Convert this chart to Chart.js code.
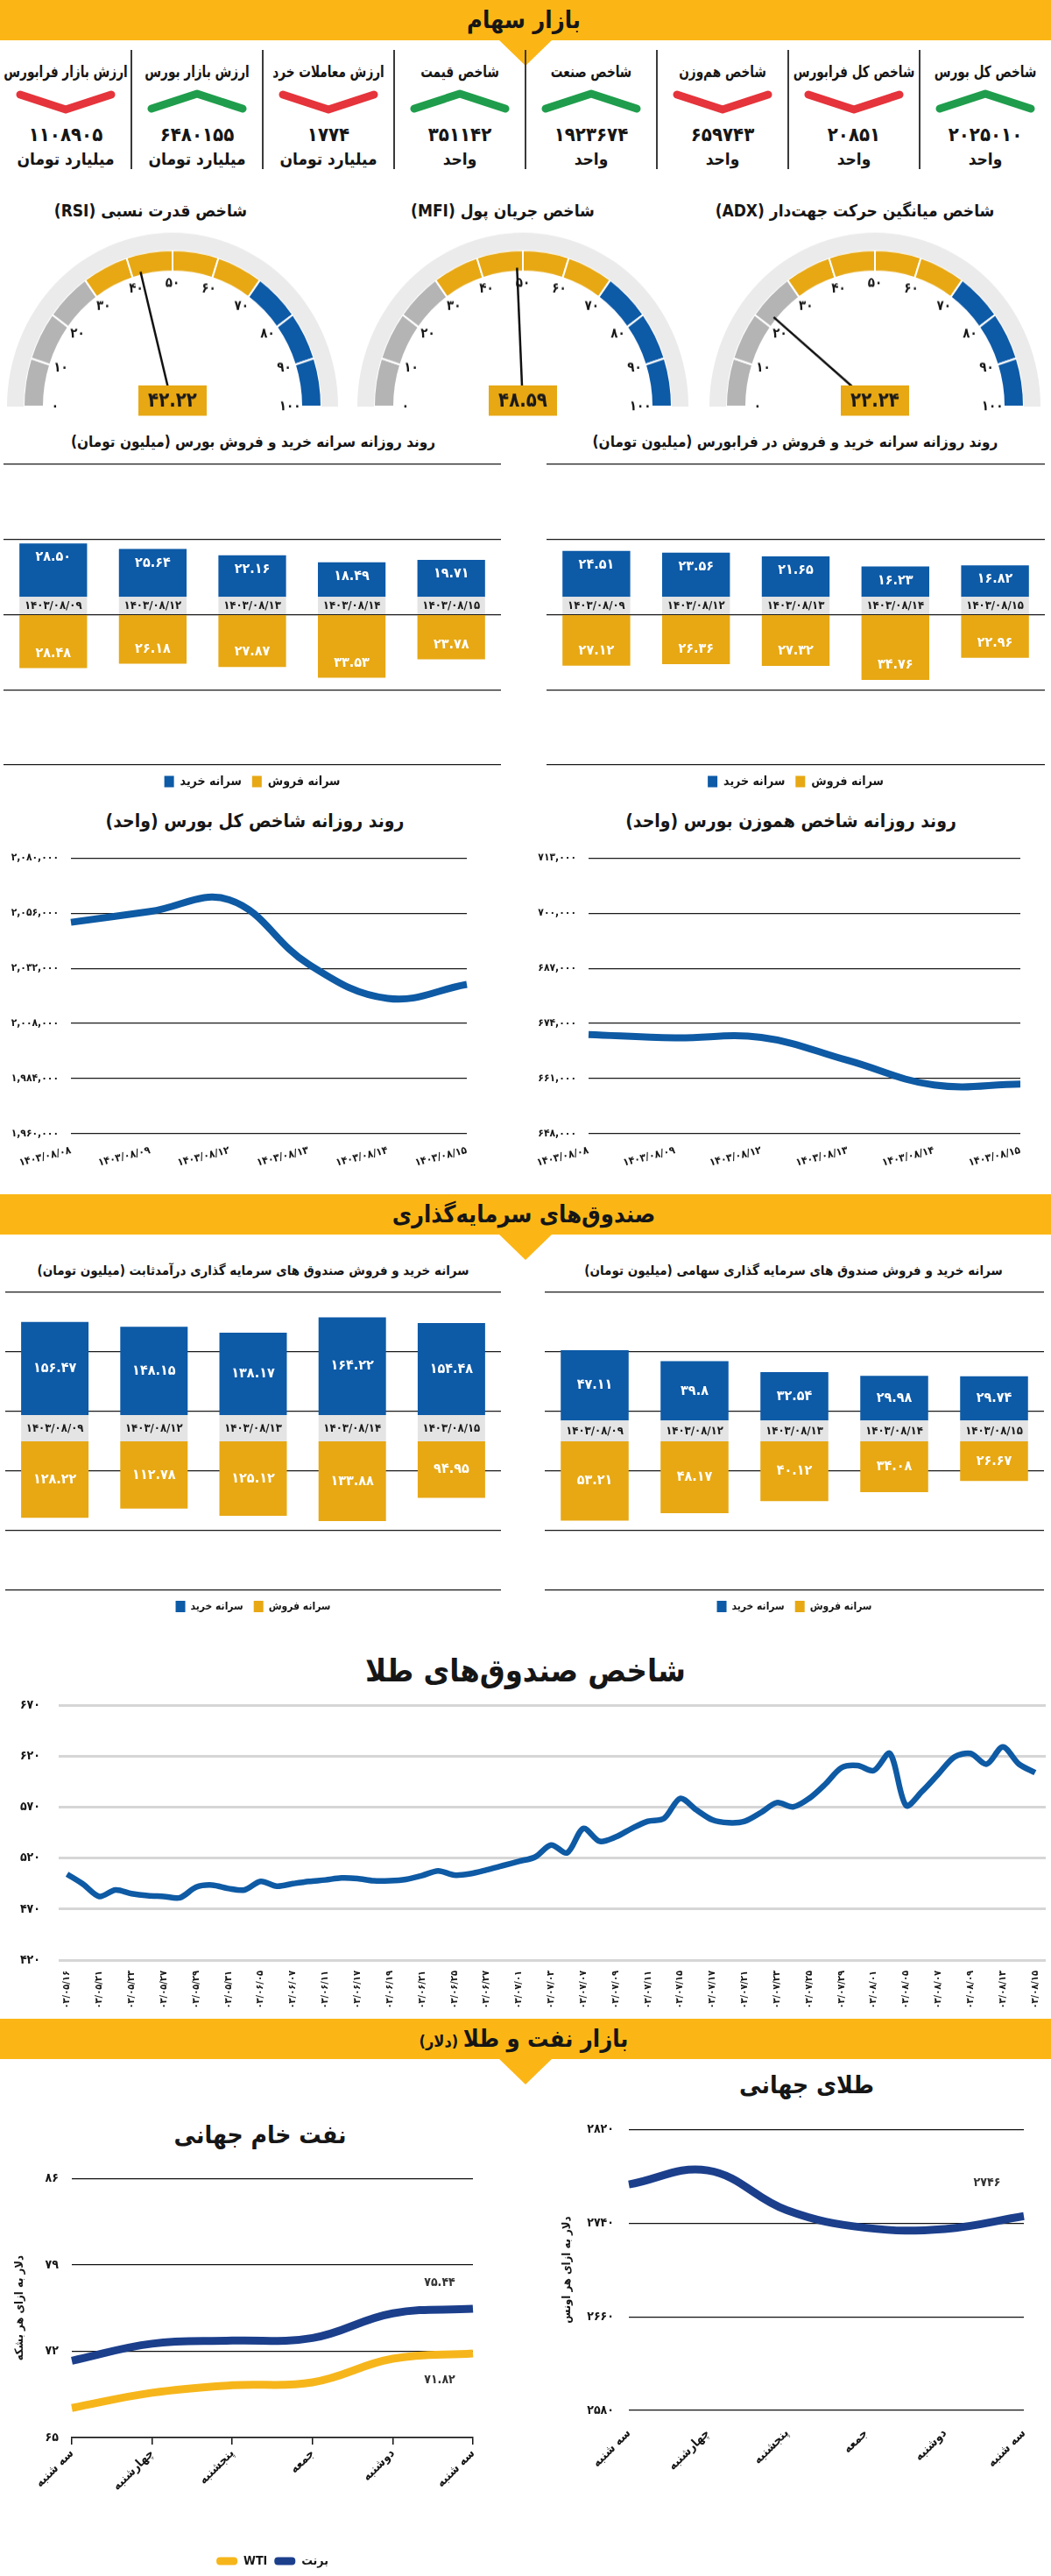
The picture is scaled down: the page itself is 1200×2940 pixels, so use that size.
<!DOCTYPE html>
<html lang="fa">
<head>
<meta charset="utf-8">
<title>بازار سهام</title>
<script src="https://cdn.jsdelivr.net/npm/chart.js@4.4.1/dist/chart.umd.min.js"></script>
<style>
  html, body { margin: 0; padding: 0; background: #fff; }
  #page { position: relative; width: 1200px; height: 2940px; overflow: hidden; background: #fff;
          font-family: "DejaVu Sans Condensed", "DejaVu Sans", sans-serif; color: #161616; }
  #page canvas, #page svg { position: absolute; }
  .band { position: absolute; left: 0; width: 1200px; height: 46px; background: #fbb616; }
  .tab { position: absolute; left: 569px; width: 62px; height: 30px; background: #fbb616; clip-path: polygon(0 0, 100% 0, 50% 100%); }
  .sep { position: absolute; width: 2px; background: #3a3a3a; }
  .t { position: absolute; direction: rtl; white-space: nowrap; font-weight: bold; transform: translateX(-50%); text-align: center; }
  .gauge { transform: scaleY(1.05); transform-origin: 50% 189px; }
</style>
</head>
<body>
<div id="page"></div>
<script>
// ---- data ----
// top row, read right to left
const indNames = ['شاخص کل بورس', 'شاخص کل فرابورس', 'شاخص هم‌وزن', 'شاخص صنعت', 'شاخص قیمت', 'ارزش معاملات خرد', 'ارزش بازار بورس', 'ارزش بازار فرابورس'];
const indValues = [2025010, 20851, 659743, 1923674, 351142, 1774, 6480155, 1108905];
const indUnits = ['واحد', 'واحد', 'واحد', 'واحد', 'واحد', 'میلیارد تومان', 'میلیارد تومان', 'میلیارد تومان'];
const indUp = [true, false, false, true, true, false, true, false];

// gauges, left to right
const gaugeNames = ['شاخص قدرت نسبی (RSI)', 'شاخص جریان پول (MFI)', 'شاخص میانگین حرکت جهت‌دار (ADX)'];
const gaugeValues = [42.22, 48.59, 22.24];
const gaugeTicks = [0, 10, 20, 30, 40, 50, 60, 70, 80, 90, 100];

const tradeDates = ['1403/08/09', '1403/08/12', '1403/08/13', '1403/08/14', '1403/08/15'];
const bourseBuy = [28.50, 25.64, 22.16, 18.49, 19.71];
const bourseSell = [28.48, 26.18, 27.87, 33.53, 23.78];
const farabourseBuy = [24.51, 23.56, 21.65, 16.23, 16.82];
const farabourseSell = [27.12, 26.36, 27.32, 34.76, 22.96];

const indexDates = ['1403/08/08', '1403/08/09', '1403/08/12', '1403/08/13', '1403/08/14', '1403/08/15'];
const totalIndex = [2052000, 2056700, 2061800, 2033800, 2018900, 2025010];
const equalIndex = [671400, 670600, 670700, 665300, 659500, 659743];

const fixedBuy = [156.47, 148.15, 138.17, 164.22, 154.48];
const fixedSell = [128.22, 112.78, 125.12, 133.88, 94.95];
const equityBuy = [47.11, 39.8, 32.54, 29.98, 29.74];
const equitySell = [53.21, 48.17, 40.12, 34.08, 26.67];

const goldFundDates = ['1403/05/16', '1403/05/21', '1403/05/23', '1403/05/27', '1403/05/29', '1403/05/31', '1403/06/05', '1403/06/07',
  '1403/06/11', '1403/06/17', '1403/06/19', '1403/06/21', '1403/06/25', '1403/06/27', '1403/07/01', '1403/07/03', '1403/07/07',
  '1403/07/09', '1403/07/11', '1403/07/15', '1403/07/17', '1403/07/21', '1403/07/23', '1403/07/25', '1403/07/29', '1403/08/01',
  '1403/08/05', '1403/08/07', '1403/08/09', '1403/08/13', '1403/08/15'];
// two readings per labelled date
const goldFundIndex = [504.3, 494.4, 482.4, 488.8, 485.2, 483.2, 482.4, 481.2, 491.6, 493.6,
  490.2, 488.8, 497.2, 492.5, 495.0, 497.2, 498.6, 500.6, 500.0, 497.8,
  497.8, 499.2, 502.9, 507.6, 503.4, 504.8, 508.5, 512.7, 516.9, 521.1,
  532.9, 525.3, 549.2, 536.6, 540.8, 549.2, 556.2, 559.0, 578.7, 567.5,
  557.6, 554.8, 556.2, 564.7, 574.5, 570.3, 578.7, 592.7, 608.8, 611.0,
  606.0, 622.8, 571.7, 585.7, 602.6, 619.4, 622.8, 612.4, 629.3, 612.4, 604.0];

const weekDays = ['سه شنبه', 'چهارشنبه', 'پنجشنبه', 'جمعه', 'دوشنبه', 'سه شنبه'];
const brent = [71.23, 72.61, 72.86, 73.07, 75.07, 75.44];
const wti = [67.4, 68.63, 69.24, 69.48, 71.39, 71.82];
const goldWorld = [2773, 2785, 2751, 2736, 2735, 2746];

// ---- helpers ----
const FONT = '"DejaVu Sans Condensed", "DejaVu Sans", sans-serif';
const BLUE = '#0d5aa7', GOLD = '#e7a814', BAND = '#e4e4e4', LINE = '#0e5aa4', NAVY = '#1c3f8c',
      YELLOW = '#f6b61b', GREY = '#b4b4b4', PALE = '#ebebeb';
const page = document.getElementById('page');
const faDigits = '۰۱۲۳۴۵۶۷۸۹';
const fa = s => String(s).replace(/[0-9]/g, d => faDigits[d]);

Chart.defaults.font.family = FONT;
Chart.defaults.font.size = 13;
Chart.defaults.color = '#161616';
Chart.defaults.animation = false;
Chart.defaults.responsive = false;
Chart.defaults.maintainAspectRatio = false;
Chart.defaults.plugins.tooltip.enabled = false;

function text(str, cx, cy, size, squeeze) {
  const d = document.createElement('div');
  d.className = 't';
  d.textContent = str;
  d.style.left = cx + 'px';
  d.style.top = (cy - size * 0.75) + 'px';
  d.style.fontSize = size + 'px';
  d.style.lineHeight = (size * 1.5) + 'px';
  if (squeeze) d.style.transform = 'translateX(-50%) scaleX(' + squeeze + ')';
  page.appendChild(d);
  return d;
}

function addCanvas(x, y, w, h) {
  const c = document.createElement('canvas');
  c.width = w; c.height = h;
  c.style.left = x + 'px'; c.style.top = y + 'px';
  c.setAttribute('dir', 'rtl');
  page.appendChild(c);
  return c;
}

function banner(title, top, sub) {
  const b = document.createElement('div');
  b.className = 'band'; b.style.top = top + 'px';
  page.appendChild(b);
  const tab = document.createElement('div');
  tab.className = 'tab'; tab.style.top = (top + 45) + 'px';
  page.appendChild(tab);
  const t = text(title, 598, top + 23, 27);
  if (sub) {
    const s = document.createElement('span');
    s.textContent = ' ' + sub;
    s.style.fontSize = '18px';
    t.appendChild(s);
  }
}

function chevron(cx, cy, up) {
  const ns = 'http://www.w3.org/2000/svg';
  const svg = document.createElementNS(ns, 'svg');
  svg.setAttribute('width', 124); svg.setAttribute('height', 40);
  svg.style.left = (cx - 62) + 'px'; svg.style.top = (cy - 20) + 'px';
  const p = document.createElementNS(ns, 'polyline');
  p.setAttribute('points', up ? '10,28 62,11 114,28' : '10,12 62,29 114,12');
  p.setAttribute('fill', 'none');
  p.setAttribute('stroke', up ? '#1f9d4c' : '#e5343b');
  p.setAttribute('stroke-width', 9);
  p.setAttribute('stroke-linecap', 'round');
  p.setAttribute('stroke-linejoin', 'round');
  svg.appendChild(p);
  page.appendChild(svg);
}

// ---- plugins ----
const barLabels = {
  id: 'barLabels',
  afterDatasetsDraw(chart, args, opts) {
    const ctx = chart.ctx;
    ctx.save();
    ctx.textAlign = 'center';
    ctx.textBaseline = 'middle';
    ctx.font = 'bold 13px ' + FONT;
    ctx.fillStyle = '#1a1a1a';
    chart.getDatasetMeta(0).data.forEach((bar, i) => {
      ctx.fillText(chart.data.labels[i], bar.x, (bar.y + bar.base) / 2 + 1);
    });
    ctx.font = 'bold ' + opts.size + 'px ' + FONT;
    ctx.fillStyle = '#fff';
    [1, 2].forEach(di => {
      const ds = chart.data.datasets[di];
      chart.getDatasetMeta(di).data.forEach((bar, i) => {
        const v = ds.shown[i];
        const s = fa(opts.digits ? v.toFixed(opts.digits) : String(v));
        let yy = (bar.y + bar.base) / 2;
        if (opts.place === 'end') yy = di === 1 ? bar.y + 16 : bar.y - 17;
        ctx.fillText(s, bar.x, yy);
      });
    });
    ctx.restore();
  }
};

const gaugePlugin = {
  id: 'gauge',
  afterDatasetsDraw(chart, args, opts) {
    const arcs = chart.getDatasetMeta(1).data;
    const cx = arcs[0].x, cy = arcs[0].y, rIn = arcs[0].innerRadius;
    const a0 = arcs[0].startAngle, a1 = arcs[arcs.length - 1].endAngle;
    const ang = t => a0 + (a1 - a0) * t / 100;
    const ctx = chart.ctx;
    ctx.save();
    ctx.textAlign = 'center';
    ctx.textBaseline = 'middle';
    ctx.fillStyle = '#161616';
    ctx.font = 'bold 15px ' + FONT;
    gaugeTicks.forEach(t => {
      const a = ang(t);
      ctx.fillText(fa(t), cx + Math.cos(a) * (rIn - 13), cy + Math.sin(a) * (rIn - 13));
    });
    const a = ang(opts.value);
    ctx.strokeStyle = '#111';
    ctx.lineWidth = 2.5;
    ctx.beginPath();
    ctx.moveTo(cx, cy);
    ctx.lineTo(cx + Math.cos(a) * (rIn + 4), cy + Math.sin(a) * (rIn + 4));
    ctx.stroke();
    ctx.fillStyle = GOLD;
    ctx.fillRect(cx - 39, cy - 23, 78, 33);
    ctx.fillStyle = '#1a1a1a';
    ctx.font = 'bold 22px ' + FONT;
    ctx.fillText(fa(opts.value.toFixed(2)), cx, cy - 6);
    ctx.restore();
  }
};

const endLabels = {
  id: 'endLabels',
  afterDatasetsDraw(chart) {
    const ctx = chart.ctx;
    ctx.save();
    ctx.textAlign = 'center';
    ctx.textBaseline = 'middle';
    ctx.font = 'bold 14px ' + FONT;
    ctx.fillStyle = '#333';
    chart.data.datasets.forEach((ds, di) => {
      if (!ds.endLabel) return;
      const pts = chart.getDatasetMeta(di).data;
      const p = pts[pts.length - 1];
      ctx.fillText(fa(ds.data[ds.data.length - 1]), p.x + ds.endLabel[0], p.y + ds.endLabel[1]);
    });
    ctx.restore();
  }
};

// ---- banners & top row ----
banner('بازار سهام', 0);
banner('صندوق‌های سرمایه‌گذاری', 1363);
banner('بازار نفت و طلا', 2304, '(دلار)');

indNames.forEach((name, i) => {
  const cx = 1125 - i * 150;
  text(name, cx, 81, 18, 0.84);
  chevron(cx, 116, indUp[i]);
  text(fa(indValues[i]), cx, 153, 22);
  text(indUnits[i], cx, 181, 19);
});
for (let k = 1; k < 8; k++) {
  const s = document.createElement('div');
  s.className = 'sep';
  s.style.left = (k * 150 - 1) + 'px';
  s.style.top = '57px';
  s.style.height = '136px';
  page.appendChild(s);
}

// ---- gauges ----
const gaugeX = [197, 597, 999];
const gaugeTitleX = [172, 574, 976];
gaugeValues.forEach((val, g) => {
  text(gaugeNames[g], gaugeTitleX[g], 240, 19);
  const steps = gaugeTicks.slice(1).map((t, i) => t - gaugeTicks[i]);
  const cv = addCanvas(gaugeX[g] - 189, 275, 378, 203);
  cv.className = 'gauge';
  new Chart(cv, {
    type: 'doughnut',
    data: {
      labels: gaugeTicks.slice(1).map(String),
      datasets: [
        { data: [100], backgroundColor: [PALE], borderWidth: 0, weight: 19 },
        { data: steps, backgroundColor: gaugeTicks.slice(1).map(t => t <= 30 ? GREY : t <= 70 ? GOLD : BLUE),
          borderColor: '#fff', borderWidth: 2, weight: 23 }
      ]
    },
    options: {
      rotation: -90, circumference: 180, cutout: '77.8%',
      layout: { padding: { bottom: 14 } },
      plugins: { legend: { display: false }, gauge: { value: val } }
    },
    plugins: [gaugePlugin]
  });
});

// ---- split bar charts ----
function splitBars(x, y, w, h, pad, cfg) {
  return new Chart(addCanvas(x, y, w, h), {
    type: 'bar',
    data: {
      labels: tradeDates.map(fa),
      datasets: [
        { label: 'تاریخ', data: tradeDates.map(() => cfg.band), backgroundColor: BAND },
        { label: 'سرانه خرید', data: cfg.buy, shown: cfg.buy, backgroundColor: BLUE },
        { label: 'سرانه فروش', data: cfg.sell.map(v => -v), shown: cfg.sell, backgroundColor: GOLD }
      ]
    },
    options: {
      layout: { padding: pad },
      datasets: { bar: { categoryPercentage: 1, barPercentage: 0.68 } },
      scales: {
        x: { stacked: true, display: false },
        y: { stacked: true, min: cfg.min, max: cfg.max,
             ticks: { display: false, stepSize: cfg.step },
             grid: { color: '#1a1a1a', lineWidth: 1.2, drawTicks: false },
             border: { display: false },
             afterFit: s => { s.width = 0; } }
      },
      plugins: {
        legend: { position: 'bottom',
                  labels: { filter: it => it.datasetIndex > 0, boxWidth: 11, boxHeight: 13, padding: 12,
                            font: { size: cfg.legendSize, weight: 'bold' } } },
        barLabels: { place: cfg.place, digits: cfg.digits, size: cfg.labelSize }
      }
    },
    plugins: [barLabels]
  });
}

text('روند روزانه سرانه خرید و فروش بورس (میلیون تومان)', 289, 505, 17);
text('روند روزانه سرانه خرید و فروش در فرابورس (میلیون تومان)', 908, 505, 17);
splitBars(0, 525, 600, 384, { top: 5, left: 4, right: 28 },
  { buy: bourseBuy, sell: bourseSell, band: 9.4, min: -80, max: 80, step: 40, place: 'end', digits: 2, labelSize: 16, legendSize: 14 });
splitBars(600, 525, 600, 384, { top: 5, left: 24, right: 7 },
  { buy: farabourseBuy, sell: farabourseSell, band: 9.4, min: -80, max: 80, step: 40, place: 'end', digits: 2, labelSize: 16, legendSize: 14 });

// ---- index lines ----
// y ticks at 12px with 14px padding push the plot down by ~21px
function indexLine(x, cfg) {
  return new Chart(addCanvas(x, 958, 600, 381), {
    type: 'line',
    data: { labels: indexDates.map(fa),
            datasets: [{ data: cfg.values, borderColor: LINE, borderWidth: 8, tension: 0.4, pointRadius: 0 }] },
    options: {
      layout: { padding: { top: 0, left: 0, right: cfg.right, bottom: 0 } },
      plugins: { legend: { display: false } },
      scales: {
        x: { grid: { display: false }, border: { display: false },
             ticks: { autoSkip: false, minRotation: 14, maxRotation: 14, padding: 4, font: { size: 12, weight: 'bold' } },
             afterFit: s => { s.height = 45; } },
        y: { min: cfg.min, max: cfg.max,
             ticks: { stepSize: cfg.step, padding: 14, font: { size: 12, weight: 'bold' },
                      callback: v => fa(v.toLocaleString('en-US')) },
             grid: { color: '#1a1a1a', lineWidth: 1.2, drawTicks: false },
             border: { display: false },
             afterFit: s => { s.width = cfg.axisW; } }
      }
    }
  });
}
text('روند روزانه شاخص کل بورس (واحد)', 291, 938, 21);
text('روند روزانه شاخص هموزن بورس (واحد)', 903, 938, 21);
indexLine(0, { values: totalIndex, min: 1960000, max: 2080000, step: 24000, axisW: 81, right: 67 });
indexLine(600, { values: equalIndex, min: 648000, max: 713000, step: 13000, axisW: 72, right: 35 });

// ---- fund bars ----
text('سرانه خرید و فروش صندوق های سرمایه گذاری درآمدثابت (میلیون تومان)', 289, 1450, 15);
text('سرانه خرید و فروش صندوق های سرمایه گذاری سهامی (میلیون تومان)', 906, 1450, 15);
splitBars(0, 1470, 600, 380, { top: 5, left: 6, right: 28 },
  { buy: fixedBuy, sell: fixedSell, band: 44, min: -250, max: 250, step: 100, place: 'center', digits: 0, labelSize: 16, legendSize: 12 });
splitBars(600, 1470, 600, 380, { top: 5, left: 22, right: 8 },
  { buy: equityBuy, sell: equitySell, band: 14, min: -100, max: 100, step: 40, place: 'center', digits: 0, labelSize: 16, legendSize: 12 });

// ---- gold funds index ----
text('شاخص صندوق‌های طلا', 600, 1907, 36);
new Chart(addCanvas(0, 1917, 1200, 375), {
  type: 'line',
  data: { datasets: [{ data: goldFundIndex.map((v, i) => ({ x: i / 2, y: v })),
                       borderColor: LINE, borderWidth: 6.5, tension: 0.3, pointRadius: 0 }] },
  options: {
    layout: { padding: { top: 0, left: 0, right: 6, bottom: 0 } },
    plugins: { legend: { display: false } },
    scales: {
      x: { type: 'linear', min: -0.26, max: 30.33,
           grid: { display: false }, border: { display: false },
           afterBuildTicks: s => { s.ticks = goldFundDates.map((d, i) => ({ value: i })); },
           ticks: { autoSkip: false, minRotation: 90, maxRotation: 90, padding: 4, font: { size: 11, weight: 'bold' },
                    callback: v => fa(goldFundDates[v] || '') },
           afterFit: s => { s.height = 55; } },
      y: { min: 420, max: 670,
           ticks: { stepSize: 50, padding: 21, font: { size: 14, weight: 'bold' }, callback: v => fa(v) },
           grid: { color: '#d6d6d6', lineWidth: 3, drawTicks: false },
           border: { display: false },
           afterFit: s => { s.width = 67; } }
    }
  }
});

// ---- oil & world gold ----
const plainLegend = ch => Chart.defaults.plugins.legend.labels.generateLabels(ch).map(l => Object.assign(l, { lineWidth: 0 }));

text('نفت خام جهانی', 297, 2437, 28);
new Chart(addCanvas(0, 2463, 600, 477), {
  type: 'line',
  data: {
    labels: weekDays,
    datasets: [
      { label: 'WTI', data: wti, borderColor: YELLOW, backgroundColor: YELLOW, borderWidth: 9, tension: 0.4, pointRadius: 0, endLabel: [-38, 30] },
      { label: 'برنت', data: brent, borderColor: NAVY, backgroundColor: NAVY, borderWidth: 9, tension: 0.4, pointRadius: 0, endLabel: [-38, -30] }
    ]
  },
  options: {
    layout: { padding: { top: 0, left: 0, right: 60, bottom: 0 } },
    plugins: {
      legend: { position: 'bottom', fullSize: false,
                labels: { boxWidth: 24, boxHeight: 9, useBorderRadius: true, borderRadius: 4, padding: 8,
                          font: { size: 14, weight: 'bold' }, generateLabels: plainLegend } }
    },
    scales: {
      x: { grid: { drawOnChartArea: false, drawTicks: true, tickLength: 8, color: '#111', lineWidth: 1.5 },
           border: { color: '#111', width: 1.5 },
           ticks: { autoSkip: false, minRotation: 45, maxRotation: 45, padding: 2, font: { size: 14, weight: 'bold' } },
           afterFit: s => { s.height = 126; } },
      y: { min: 65, max: 86,
           ticks: { stepSize: 7, padding: 15, font: { size: 14, weight: 'bold' }, callback: v => fa(v) },
           grid: { color: '#111', lineWidth: 1.2, drawTicks: false },
           border: { display: false },
           title: { display: true, text: 'دلار به ازای هر بشکه', font: { size: 13, weight: 'bold' }, padding: { top: 15, bottom: 0 } },
           afterFit: s => { s.width = 82; } }
    }
  },
  plugins: [endLabels]
});

text('طلای جهانی', 921, 2380, 28);
new Chart(addCanvas(600, 2405, 600, 441), {
  type: 'line',
  data: {
    labels: weekDays,
    datasets: [{ label: 'طلا', data: goldWorld, borderColor: NAVY, borderWidth: 9, tension: 0.4, pointRadius: 0, endLabel: [-42, -38] }]
  },
  options: {
    layout: { padding: { top: 0, left: 25, right: 31, bottom: 0 } },
    plugins: { legend: { display: false } },
    scales: {
      x: { grid: { display: false }, border: { display: false },
           ticks: { autoSkip: false, minRotation: 45, maxRotation: 45, padding: 10, font: { size: 14, weight: 'bold' } },
           afterFit: s => { s.height = 95; } },
      y: { min: 2580, max: 2820,
           ticks: { stepSize: 80, padding: 17, font: { size: 14, weight: 'bold' }, callback: v => fa(v) },
           grid: { color: '#111', lineWidth: 1.2, drawTicks: false },
           border: { display: false },
           title: { display: true, text: 'دلار به ازای هر اونس', font: { size: 13, weight: 'bold' }, padding: { top: 15, bottom: 0 } },
           afterFit: s => { s.width = 93; } }
    }
  },
  plugins: [endLabels]
});
</script>
</body>
</html>
